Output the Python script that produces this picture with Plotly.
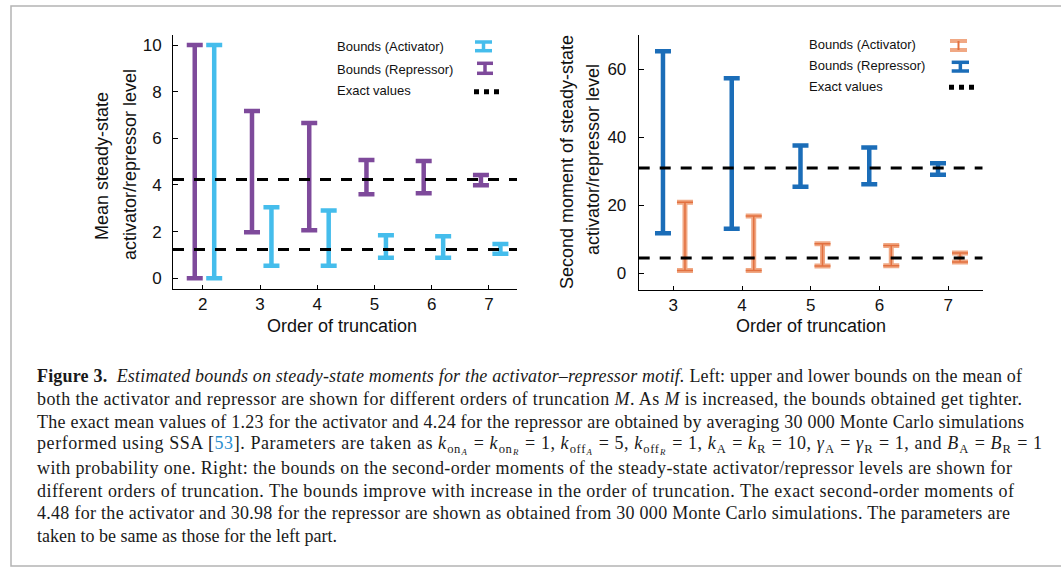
import plotly.graph_objects as go

# ---------------- data ----------------
orders_left = [2, 3, 4, 5, 6, 7]
mean_act_lower = [0.0, 0.54, 0.54, 0.88, 0.88, 1.05]
mean_act_upper = [10.0, 3.04, 2.91, 1.84, 1.80, 1.47]
mean_rep_lower = [0.0, 1.97, 2.06, 3.60, 3.64, 3.99]
mean_rep_upper = [10.0, 7.17, 6.66, 5.07, 5.03, 4.43]
mean_exact = [1.23, 4.24]

orders_right = [3, 4, 5, 6, 7]
sm_act_lower = [0.8, 0.8, 2.15, 2.2, 3.3]
sm_act_upper = [20.9, 16.9, 8.7, 8.2, 6.0]
sm_rep_lower = [11.8, 13.1, 25.5, 26.2, 29.0]
sm_rep_upper = [65.3, 57.4, 37.6, 37.0, 32.4]
sm_exact = [4.48, 30.98]

left_yticks = [0, 2, 4, 6, 8, 10]
right_yticks = [0, 20, 40, 60]
legend_labels = ["Bounds (Activator)", "Bounds (Repressor)", "Exact values"]
xlabel = "Order of truncation"
left_ylabel = ["Mean steady-state", "activator/repressor level"]
right_ylabel = ["Second moment of steady-state", "activator/repressor level"]

caption_lines = [
    "<b>Figure 3.</b>  <i>Estimated bounds on steady-state moments for the activator–repressor motif.</i> Left: upper and lower bounds on the mean of",
    "both the activator and repressor are shown for different orders of truncation <i>M</i>. As <i>M</i> is increased, the bounds obtained get tighter.",
    "The exact mean values of 1.23 for the activator and 4.24 for the repressor are obtained by averaging 30 000 Monte Carlo simulations",
    "performed using SSA [<span style='color:#2a8fcf'>53</span>]. Parameters are taken as <i>k</i><sub>on<sub><i>A</i></sub></sub> = <i>k</i><sub>on<sub><i>R</i></sub></sub> = 1, <i>k</i><sub>off<sub><i>A</i></sub></sub> = 5, <i>k</i><sub>off<sub><i>R</i></sub></sub> = 1, <i>k</i><sub>A</sub> = <i>k</i><sub>R</sub> = 10, <i>γ</i><sub>A</sub> = <i>γ</i><sub>R</sub> = 1, and <i>B</i><sub>A</sub> = <i>B</i><sub>R</sub> = 1",
    "with probability one. Right: the bounds on the second-order moments of the steady-state activator/repressor levels are shown for",
    "different orders of truncation. The bounds improve with increase in the order of truncation. The exact second-order moments of",
    "4.48 for the activator and 30.98 for the repressor are shown as obtained from 30 000 Monte Carlo simulations. The parameters are",
    "taken to be same as those for the left part.",
]
# right end (px) of each caption line in the reference (None = natural width)
caption_line_ends = [1020, 1020, 1022, 1040, 1010, 1012, 1008, None]

# ---------------- style ----------------
W, H = 1061, 568
PURPLE = "#7e4a9b"
LBLUE = "#45bdec"
BLUE = "#1b6db8"
ORANGE_LIGHT = "#f0a884"
ORANGE_DARK = "#e2703f"
SANS = "Liberation Sans, Arial, sans-serif"
SERIF = "Liberation Serif, Times New Roman, serif"
CAP_X0 = 35


def px(x):
    return x / W


def py(y):
    return 1 - y / H


fig = go.Figure()


def add_bars(xs, lo, hi, offset, color, thick, capw, xaxis, yaxis):
    mid = [(a + b) / 2 for a, b in zip(lo, hi)]
    half = [(b - a) / 2 for a, b in zip(lo, hi)]
    fig.add_trace(go.Scatter(
        x=[x + offset for x in xs], y=mid, mode="markers",
        marker=dict(size=1, opacity=0),
        error_y=dict(type="data", array=half, symmetric=True,
                     color=color, thickness=thick, width=capw),
        xaxis=xaxis, yaxis=yaxis, showlegend=False, hoverinfo="skip"))


def add_exact(vals, xr, xaxis, yaxis):
    for v in vals:
        fig.add_trace(go.Scatter(
            x=list(xr), y=[v, v], mode="lines",
            line=dict(color="black", width=3, dash="11px,10px"),
            xaxis=xaxis, yaxis=yaxis, showlegend=False, hoverinfo="skip"))


# left panel
XR_L = [1.48, 7.49]
YR_L = [-0.46, 10.43]
add_bars(orders_left, mean_rep_lower, mean_rep_upper, -0.14, PURPLE, 4.5, 8, "x", "y")
add_bars(orders_left, mean_act_lower, mean_act_upper, 0.20, LBLUE, 4.5, 8, "x", "y")
add_exact(mean_exact, XR_L, "x", "y")

# right panel
XR_R = [2.497, 7.5]
YR_R = [-4.9, 70.2]
add_bars(orders_right, sm_rep_lower, sm_rep_upper, -0.15, BLUE, 4.5, 8, "x2", "y2")
add_bars(orders_right, sm_act_lower, sm_act_upper, 0.17, ORANGE_LIGHT, 5, 8, "x2", "y2")
add_bars(orders_right, sm_act_lower, sm_act_upper, 0.17, ORANGE_DARK, 1.5, 8, "x2", "y2")
add_exact(sm_exact, XR_R, "x2", "y2")

axis_common = dict(showgrid=False, zeroline=False, showline=True, linecolor="black",
                   linewidth=1, ticks="inside", tickcolor="black", tickwidth=1,
                   tickfont=dict(family=SANS, size=17, color="#111"), mirror=False)

fig.update_layout(
    width=W, height=H, margin=dict(l=0, r=0, t=0, b=0),
    paper_bgcolor="white", plot_bgcolor="rgba(0,0,0,0)",
    xaxis=dict(domain=[px(173), px(517)], range=XR_L, tickvals=orders_left,
               ticklen=4, anchor="y", ticklabelstandoff=0, **axis_common),
    yaxis=dict(domain=[py(289), py(35)], range=YR_L, tickvals=left_yticks,
               ticklen=5, anchor="x", ticklabelstandoff=7, **axis_common),
    xaxis2=dict(domain=[px(638.7), px(982.7)], range=XR_R, tickvals=orders_right,
                ticklen=4, anchor="y2", ticklabelstandoff=0, **axis_common),
    yaxis2=dict(domain=[py(290), py(34.7)], range=YR_R, tickvals=right_yticks,
                ticklen=5, anchor="x2", ticklabelstandoff=8, **axis_common),
)

ann = []
shapes = []

# axis titles
for cx in (342, 811):
    ann.append(dict(x=px(cx), y=py(326), xref="paper", yref="paper", text=xlabel,
                    showarrow=False, font=dict(family=SANS, size=18, color="#111"),
                    xanchor="center", yanchor="middle"))
for (cx, cy), t in zip([(102, 166), (130, 165)], left_ylabel):
    ann.append(dict(x=px(cx), y=py(cy), xref="paper", yref="paper", text=t, textangle=-90,
                    showarrow=False, font=dict(family=SANS, size=18, color="#111"),
                    xanchor="center", yanchor="middle"))
for (cx, cy), t in zip([(567, 162), (593, 160)], right_ylabel):
    ann.append(dict(x=px(cx), y=py(cy), xref="paper", yref="paper", text=t, textangle=-90,
                    showarrow=False, font=dict(family=SANS, size=18, color="#111"),
                    xanchor="center", yanchor="middle"))

# legends (text)
for (lx, ys) in [(335, (46, 70, 91)), (807, (45, 66, 86))]:
    for t, yy in zip(legend_labels, ys):
        ann.append(dict(x=px(lx), y=py(yy), xref="paper", yref="paper", text=t,
                        showarrow=False, font=dict(family=SANS, size=13, color="#111"),
                        xanchor="left", yanchor="middle"))


def legend_bar(x0, x1, ytop, ybot, color, w=3.5, stem_color=None, stem_w=3.5):
    xc = (x0 + x1) / 2
    shapes.append(dict(type="line", xref="paper", yref="paper", x0=px(x0), x1=px(x1),
                       y0=py(ytop), y1=py(ytop), line=dict(color=color, width=w)))
    shapes.append(dict(type="line", xref="paper", yref="paper", x0=px(x0), x1=px(x1),
                       y0=py(ybot), y1=py(ybot), line=dict(color=color, width=w)))
    shapes.append(dict(type="line", xref="paper", yref="paper", x0=px(xc), x1=px(xc),
                       y0=py(ytop), y1=py(ybot), line=dict(color=stem_color or color, width=stem_w)))


def legend_dots(x0, x1, yy):
    shapes.append(dict(type="line", xref="paper", yref="paper", x0=px(x0), x1=px(x1),
                       y0=py(yy), y1=py(yy), line=dict(color="black", width=5, dash="5px,5px")))


legend_bar(475, 492, 42, 50.7, LBLUE)
legend_bar(477, 493, 63.3, 73.3, PURPLE)
legend_dots(474, 500, 91.7)
legend_bar(950, 967, 41, 50, ORANGE_LIGHT, w=4, stem_color=ORANGE_DARK, stem_w=2)
legend_bar(951.7, 969, 62.3, 71, BLUE)
legend_dots(949, 976, 87.3)

# caption frame
shapes.append(dict(type="rect", xref="paper", yref="paper", x0=px(11), x1=px(1075),
                   y0=py(566), y1=py(6), line=dict(color="#b4b4b4", width=1.5)))

# caption text
cap_start_index = len(ann)
for i, line in enumerate(caption_lines):
    ann.append(dict(x=px(CAP_X0), y=py(376 + i * 22.9), xref="paper", yref="paper", text=line,
                    showarrow=False, font=dict(family=SERIF, size=18, color="#1a1a1a"),
                    xanchor="left", yanchor="middle", align="left"))

fig.update_layout(annotations=ann, shapes=shapes)

# page tweaks: no body margin; justify caption lines to the reference widths
just = ",".join(
    '"%d":%d' % (cap_start_index + i, end - CAP_X0)
    for i, end in enumerate(caption_line_ends) if end is not None)
post_js = (
    "document.body.style.margin='0';document.body.style.overflow='hidden';"
    "var J={" + just + "};"
    "for (var k in J){var t=document.querySelector('.annotation[data-index=\"'+k+'\"] text.annotation-text');"
    "if(t){t.setAttribute('textLength',J[k]);t.setAttribute('lengthAdjust','spacing');}}"
)
fig.write_html("out.html", post_script=post_js, config={"displayModeBar": False})
